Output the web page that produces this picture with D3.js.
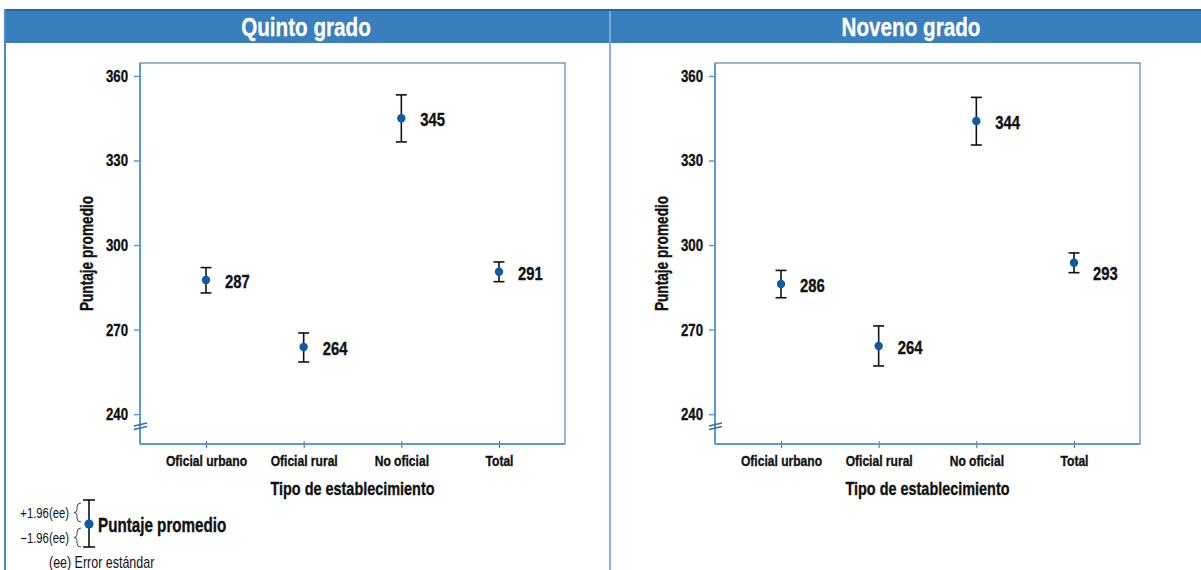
<!DOCTYPE html>
<html lang="es">
<head>
<meta charset="utf-8">
<title>Puntaje promedio por tipo de establecimiento</title>
<script src="https://cdn.jsdelivr.net/npm/d3@7"></script>
<style>
  body { margin: 0; background: #fff; }
  svg { display: block; font-family: "Liberation Sans", Arial, sans-serif; }
  .tick text { font-weight: bold; fill: #111; }
  .heavy { stroke: #111; stroke-width: 0.35px; }
</style>
</head>
<body>
<div id="chart"></div>
<script>
// Data
const categories = ["Oficial urbano", "Oficial rural", "No oficial", "Total"];
const panelTitles = ["Quinto grado", "Noveno grado"];
const quintoMean  = [287.6, 263.8, 345.0, 290.5];
const quintoLow   = [283.0, 258.5, 336.6, 287.0];
const quintoHigh  = [292.0, 268.8, 353.3, 294.0];
const quintoLabel = ["287", "264", "345", "291"];
const novenoMean  = [286.2, 264.2, 344.0, 293.7];
const novenoLow   = [281.3, 257.1, 335.5, 290.2];
const novenoHigh  = [291.0, 271.3, 352.4, 297.2];
const novenoLabel = ["286", "264", "344", "293"];
const yTicks = [240, 270, 300, 330, 360];

const panels = [
  { title: panelTitles[0], mean: quintoMean, low: quintoLow, high: quintoHigh, label: quintoLabel },
  { title: panelTitles[1], mean: novenoMean, low: novenoLow, high: novenoHigh, label: novenoLabel }
];

// Dimensions
const width = 1201, height = 570;
const frame = { left: 140, top: 63, width: 425, height: 381 };
const panelShift = 575;
const titleX = [306, 336];
const blue = "#3a7fbd", darkBlue = "#2566a8", lineBlue = "#5b9bd5", dotBlue = "#0d5ba6";
// horizontal squeeze to mimic the condensed typeface of the original
const sx = 0.78;

const svg = d3.select("#chart").append("svg")
  .attr("width", width).attr("height", height);

const label = (sel, x, y, extra = "") => sel.append("text")
  .attr("transform", `translate(${x},${y}) ${extra} scale(${sx},1)`)
  .attr("dy", "0.36em");

// Header band
svg.append("rect").attr("x", 4).attr("y", 9).attr("width", 1197).attr("height", 34).attr("fill", blue);
svg.append("rect").attr("x", 4).attr("y", 9).attr("width", 1197).attr("height", 2).attr("fill", darkBlue);

// Panel borders
svg.append("line").attr("x1", 5).attr("x2", 5).attr("y1", 9).attr("y2", height)
  .attr("stroke", "#4a8acb").attr("stroke-width", 2);
svg.append("line").attr("x1", 610).attr("x2", 610).attr("y1", 11).attr("y2", 43)
  .attr("stroke", "#8fb8e2").attr("stroke-width", 1.5);
svg.append("line").attr("x1", 610).attr("x2", 610).attr("y1", 43).attr("y2", height)
  .attr("stroke", lineBlue).attr("stroke-width", 1.5);

// Scales
const y = d3.scaleLinear()
  .domain([229.4, 364.6])
  .range([frame.top + frame.height, frame.top]);

panels.forEach((p, i) => {
  const ox = i * panelShift;
  const g = svg.append("g").attr("transform", `translate(${ox},0)`);

  label(g, titleX[i], 26)
    .attr("text-anchor", "middle")
    .attr("fill", "#fff").attr("font-weight", "bold").attr("font-size", 26.5)
    .attr("stroke", "#fff").attr("stroke-width", 0.3)
    .text(p.title);

  const x = d3.scalePoint()
    .domain(categories)
    .range([frame.left + 66, frame.left + frame.width - 66]);

  // Frame
  g.append("rect")
    .attr("x", frame.left).attr("y", frame.top)
    .attr("width", frame.width).attr("height", frame.height)
    .attr("fill", "none").attr("stroke", "#2e6db4").attr("stroke-width", 1);

  // Y axis
  const yAxis = g.append("g")
    .attr("transform", `translate(${frame.left},0)`)
    .call(d3.axisLeft(y).tickValues(yTicks).tickSizeInner(6).tickSizeOuter(0).tickPadding(6));
  yAxis.select(".domain").remove();
  yAxis.selectAll(".tick line").attr("stroke", lineBlue).attr("stroke-width", 1.5);
  yAxis.selectAll(".tick text")
    .attr("class", "heavy")
    .attr("font-size", 17)
    .attr("transform", `scale(${sx},1)`)
    .attr("x", -12 / sx);

  g.append("line")
    .attr("x1", frame.left).attr("x2", frame.left)
    .attr("y1", frame.top).attr("y2", frame.top + frame.height)
    .attr("stroke", lineBlue).attr("stroke-width", 2);

  // Axis break
  [0, 3.5].forEach(d => {
    g.append("line")
      .attr("x1", frame.left - 6).attr("y1", 426 + d)
      .attr("x2", frame.left + 7).attr("y2", 423 + d)
      .attr("stroke", "#2e6db4").attr("stroke-width", 1.3);
  });

  // X axis
  const xAxis = g.append("g")
    .attr("transform", `translate(0,${frame.top + frame.height})`)
    .call(d3.axisBottom(x).tickSizeInner(4).tickSizeOuter(0).tickPadding(7));
  xAxis.select(".domain").remove();
  xAxis.selectAll(".tick line").attr("stroke", "#2e6db4").attr("y1", -3);
  xAxis.selectAll(".tick text")
    .attr("class", "heavy")
    .attr("font-size", 15.5)
    .attr("transform", `scale(${sx},1)`);

  g.append("line")
    .attr("x1", frame.left).attr("x2", frame.left + frame.width)
    .attr("y1", frame.top + frame.height).attr("y2", frame.top + frame.height)
    .attr("stroke", lineBlue).attr("stroke-width", 2);

  // Axis titles
  label(g, frame.left + frame.width / 2, 488)
    .attr("class", "heavy")
    .attr("text-anchor", "middle").attr("font-weight", "bold").attr("font-size", 18.5)
    .attr("fill", "#111")
    .text("Tipo de establecimiento");

  label(g, 87, frame.top + frame.height / 2, "rotate(-90)")
    .attr("class", "heavy")
    .attr("text-anchor", "middle").attr("font-weight", "bold").attr("font-size", 17.5)
    .attr("fill", "#111")
    .text("Puntaje promedio");

  // Error bars
  const rows = categories.map((c, k) => ({ c, mean: p.mean[k], low: p.low[k], high: p.high[k], label: p.label[k] }));
  const bars = g.selectAll(".bar").data(rows).enter().append("g").attr("class", "bar");

  bars.append("line")
    .attr("x1", d => x(d.c)).attr("x2", d => x(d.c))
    .attr("y1", d => y(d.high)).attr("y2", d => y(d.low))
    .attr("stroke", "#111").attr("stroke-width", 1.6);
  ["high", "low"].forEach(key => {
    bars.append("line")
      .attr("x1", d => x(d.c) - 5.5).attr("x2", d => x(d.c) + 5.5)
      .attr("y1", d => y(d[key])).attr("y2", d => y(d[key]))
      .attr("stroke", "#111").attr("stroke-width", 1.6);
  });
  bars.append("circle")
    .attr("cx", d => x(d.c)).attr("cy", d => y(d.mean)).attr("r", 4.2)
    .attr("fill", dotBlue);

  // Value labels (Noveno "Total" label sits a bit lower in the original)
  bars.append("text")
    .attr("class", "heavy")
    .attr("transform", d => `translate(${x(d.c) + 19},${y(d.mean) + (i === 1 && d.c === "Total" ? 10 : 1)}) scale(${sx},1)`)
    .attr("dy", "0.36em")
    .attr("font-weight", "bold").attr("font-size", 19).attr("fill", "#111")
    .text(d => d.label);
});

// Legend
const lg = svg.append("g");
const lx = 89;
lg.append("line").attr("x1", lx).attr("x2", lx).attr("y1", 500).attr("y2", 547)
  .attr("stroke", "#111").attr("stroke-width", 1.6);
[500, 547].forEach(v => {
  lg.append("line").attr("x1", lx - 6).attr("x2", lx + 6).attr("y1", v).attr("y2", v)
    .attr("stroke", "#111").attr("stroke-width", 1.6);
});
lg.append("circle").attr("cx", lx).attr("cy", 524).attr("r", 4.6).attr("fill", dotBlue);
label(lg, 98, 525)
  .attr("class", "heavy")
  .attr("font-weight", "bold").attr("font-size", 19.5).attr("fill", "#111")
  .text("Puntaje promedio");

// Braces
const brace = (top, bottom, xr) => {
  const mid = (top + bottom) / 2;
  return `M${xr},${top} Q${xr - 4},${top} ${xr - 4},${top + 4} L${xr - 4},${mid - 3} Q${xr - 4},${mid} ${xr - 7},${mid}` +
         ` Q${xr - 4},${mid} ${xr - 4},${mid + 3} L${xr - 4},${bottom - 4} Q${xr - 4},${bottom} ${xr},${bottom}`;
};
lg.append("path").attr("d", brace(503, 522, 81)).attr("fill", "none").attr("stroke", "#333").attr("stroke-width", 0.9);
lg.append("path").attr("d", brace(528, 547, 81)).attr("fill", "none").attr("stroke", "#333").attr("stroke-width", 0.9);

label(lg, 69, 513).attr("text-anchor", "end")
  .attr("font-size", 14.5).attr("fill", "#111").text("+1.96(ee)");
label(lg, 69, 538).attr("text-anchor", "end")
  .attr("font-size", 14.5).attr("fill", "#111").text("\u22121.96(ee)");
label(lg, 49, 562)
  .attr("font-size", 16).attr("fill", "#111").text("(ee) Error estándar");
</script>
</body>
</html>
